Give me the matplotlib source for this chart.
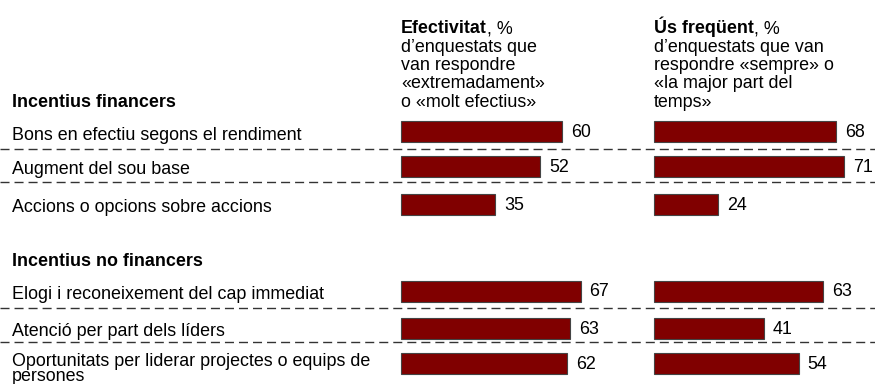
import matplotlib
matplotlib.use('Agg')
import matplotlib.pyplot as plt

plt.rcParams['font.family'] = ['Liberation Sans', 'DejaVu Sans']

# data
groups = ['Incentius financers', 'Incentius no financers']
labels = ['Bons en efectiu segons el rendiment',
          'Augment del sou base',
          'Accions o opcions sobre accions',
          'Elogi i reconeixement del cap immediat',
          'Atenció per part dels líders',
          'Oportunitats per liderar projectes o equips de\npersones']
efectivitat = [60, 52, 35, 67, 63, 62]
us_frequent = [68, 71, 24, 63, 41, 54]

col_titles = ['Efectivitat', 'Ús freqüent']
col_subs = [['d’enquestats que', 'van respondre', '«extremadament»', 'o «molt efectius»'],
            ['d’enquestats que van', 'respondre «sempre» o', '«la major part del', 'temps»']]

# layout (pixels)
W, H = 875, 384
row_y = [131.5, 166.5, 204, 291, 328, 363.5]
group_base = [107, 266]
sep_y = [149, 182, 308, 342]
col_x = [401, 654]
scale = 2.68
bar_h = 21
fs = 12.85
red = '#800000'

fig = plt.figure(figsize=(W / 100, H / 100), dpi=100)
ax = fig.add_axes([0, 0, 1, 1])
ax.set_xlim(0, W)
ax.set_ylim(H, 0)
ax.axis('off')

for x0, vals in zip(col_x, [efectivitat, us_frequent]):
    widths = [v * scale for v in vals]
    ax.barh(row_y, widths, left=x0, height=bar_h, color=red,
            edgecolor='#444444', linewidth=0.8)
    for y, w, v in zip(row_y, widths, vals):
        ax.text(x0 + w + 9, y + 1, str(v), fontsize=fs, va='center', ha='left')

for y in sep_y:
    ax.plot([0, W], [y, y], color='#333333', lw=1, dashes=(6.5, 3.6))

for g, b in zip(groups, group_base):
    ax.text(12, b, g, fontsize=fs, fontweight='bold', va='baseline')

for y, lab in zip(row_y, labels):
    parts = lab.split('\n')
    b = y + 8 if len(parts) == 1 else y + 2
    for i, p in enumerate(parts):
        ax.text(12, b + i * 15.6, p, fontsize=fs, va='baseline')

step = 18.5
for x0, title, subs in zip(col_x, col_titles, col_subs):
    b0 = group_base[0] - step * len(subs)
    t = ax.text(x0, b0, title, fontsize=fs, fontweight='bold', va='baseline')
    ax.annotate(', %', xy=(1, 0), xycoords=t, fontsize=fs, va='bottom', ha='left')
    for i, s in enumerate(subs):
        ax.text(x0, b0 + step * (i + 1), s, fontsize=fs, va='baseline')

fig.savefig('out.png', dpi=100)
